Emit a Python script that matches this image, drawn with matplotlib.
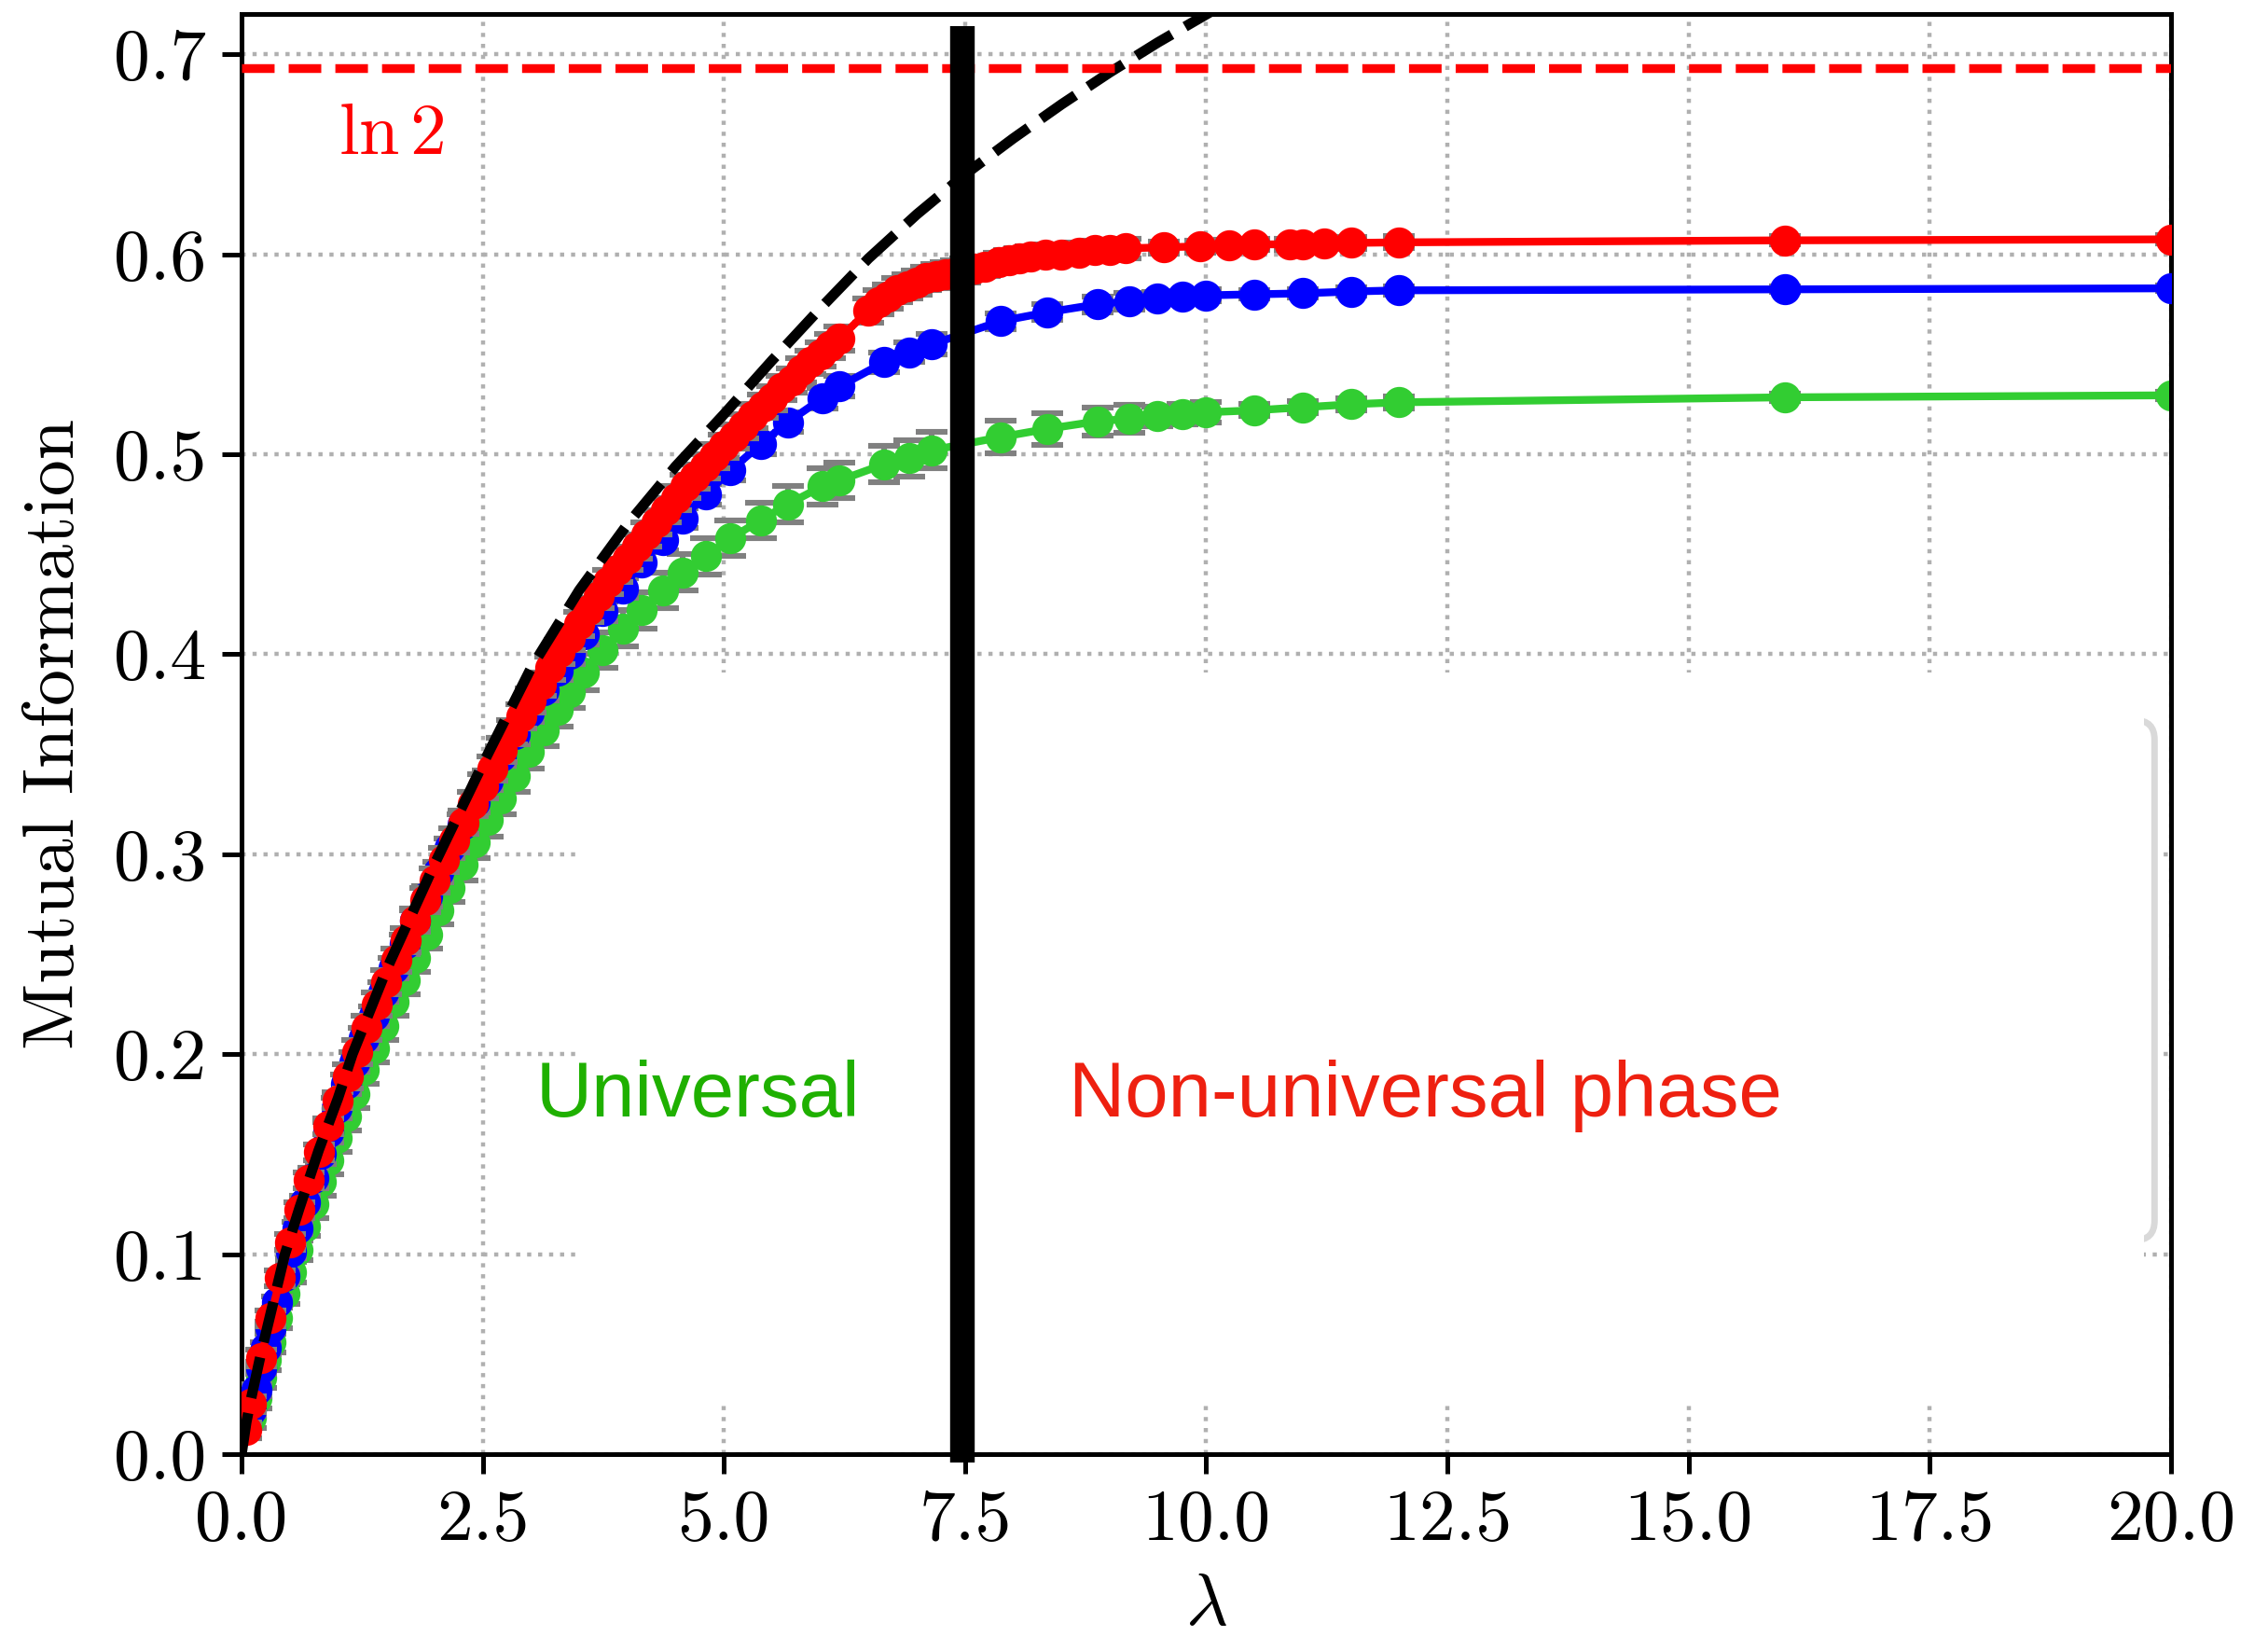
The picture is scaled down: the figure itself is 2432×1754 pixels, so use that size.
import numpy as np
import matplotlib
matplotlib.use('Agg')
import matplotlib.pyplot as plt
from matplotlib.patches import Rectangle, FancyBboxPatch

plt.rcParams['font.family'] = 'serif'
plt.rcParams['font.serif'] = ['cmr10']
plt.rcParams['mathtext.fontset'] = 'cm'
plt.rcParams['axes.unicode_minus'] = False

# red series (dense sampling)
x_red = [0.05, 0.1, 0.2, 0.3, 0.4, 0.5, 0.6, 0.7, 0.8, 0.9, 1.0, 1.1, 1.2, 1.3, 1.4,
         1.5, 1.6, 1.7, 1.8, 1.9, 2.0, 2.1, 2.2, 2.3, 2.4, 2.5, 2.6, 2.7, 2.8, 2.9,
         3.0, 3.1, 3.2, 3.3, 3.4, 3.5, 3.6, 3.7, 3.8, 3.9, 4.0, 4.1, 4.2, 4.3, 4.4,
         4.5, 4.6, 4.7, 4.8, 4.9, 5.0, 5.1, 5.2, 5.3, 5.4, 5.5, 5.6, 5.7, 5.8, 5.9,
         6.0, 6.1, 6.2, 6.5, 6.6, 6.7, 6.8, 6.9, 7.0, 7.1, 7.2, 7.3, 7.4, 7.5, 7.6,
         7.7, 7.85, 7.96, 8.06, 8.18, 8.33, 8.5, 8.68, 8.85, 9.0, 9.16, 9.56, 9.94,
         10.24, 10.5, 10.87, 11.0, 11.22, 11.5, 12.0, 16.0, 20.0]
y_red = [0.012, 0.025, 0.048, 0.068, 0.088, 0.106, 0.122, 0.137, 0.151, 0.164, 0.177,
         0.189, 0.201, 0.213, 0.225, 0.236, 0.247, 0.257, 0.267, 0.277, 0.287, 0.297,
         0.307, 0.316, 0.325, 0.334, 0.343, 0.352, 0.361, 0.369, 0.377, 0.385, 0.393,
         0.401, 0.408, 0.415, 0.422, 0.429, 0.436, 0.442, 0.448, 0.454, 0.460, 0.466,
         0.472, 0.478, 0.484, 0.489, 0.494, 0.499, 0.504, 0.509, 0.514, 0.519, 0.524,
         0.528, 0.533, 0.537, 0.542, 0.546, 0.550, 0.554, 0.558, 0.572, 0.576, 0.579,
         0.582, 0.584, 0.586, 0.588, 0.589, 0.590, 0.591, 0.592, 0.593, 0.594, 0.596,
         0.597, 0.598, 0.599, 0.600, 0.600, 0.601, 0.602, 0.602, 0.603, 0.6035, 0.604,
         0.6045, 0.605, 0.605, 0.6052, 0.6055, 0.6057, 0.606, 0.607, 0.6075]
e_red = [0.004, 0.004, 0.004, 0.004, 0.004, 0.004, 0.004, 0.004, 0.004, 0.004, 0.004,
         0.006, 0.006, 0.006, 0.006, 0.006, 0.006, 0.006, 0.006, 0.006, 0.006, 0.006,
         0.006, 0.006, 0.006, 0.006, 0.006, 0.006, 0.006, 0.006, 0.006, 0.006, 0.006,
         0.006, 0.006, 0.006, 0.006, 0.006, 0.006, 0.006, 0.006, 0.006, 0.006, 0.006,
         0.006, 0.006, 0.006, 0.006, 0.006, 0.006, 0.006, 0.006, 0.006, 0.006, 0.006,
         0.006, 0.006, 0.006, 0.006, 0.006, 0.006, 0.006, 0.006, 0.006, 0.006, 0.006,
         0.006, 0.006, 0.006, 0.006, 0.006, 0.006, 0.006, 0.006, 0.005, 0.005, 0.005,
         0.005, 0.005, 0.005, 0.005, 0.005, 0.005, 0.005, 0.005, 0.005, 0.003, 0.003,
         0.003, 0.003, 0.003, 0.003, 0.003, 0.003, 0.003, 0.002, 0.002]

# blue and green series share the same lambda grid
x_bg = [0.1, 0.15, 0.2, 0.25, 0.3, 0.37, 0.44, 0.51, 0.58, 0.66, 0.74, 0.82, 0.9, 0.99,
        1.08, 1.17, 1.27, 1.37, 1.47, 1.58, 1.69, 1.8, 1.92, 2.04, 2.16, 2.29, 2.42,
        2.55, 2.69, 2.83, 2.98, 3.13, 3.28, 3.4, 3.55, 3.74, 3.95, 4.15, 4.37, 4.575,
        4.81, 5.07, 5.38, 5.66, 6.02, 6.2, 6.66, 6.92, 7.155, 7.87, 8.35, 8.87, 9.2,
        9.49, 9.75, 10.0, 10.5, 11.0, 11.5, 12.0, 16.0, 20.0]
y_blue = [0.022, 0.032, 0.043, 0.053, 0.063, 0.076, 0.089, 0.101, 0.113, 0.126, 0.138,
          0.150, 0.161, 0.173, 0.185, 0.196, 0.208, 0.219, 0.231, 0.243, 0.255, 0.267,
          0.279, 0.291, 0.303, 0.315, 0.326, 0.337, 0.349, 0.360, 0.371, 0.382, 0.392,
          0.400, 0.410, 0.4215, 0.433, 0.446, 0.457, 0.468, 0.480, 0.492, 0.505, 0.516,
          0.528, 0.534, 0.546, 0.551, 0.555, 0.5666, 0.571, 0.575, 0.5765, 0.578,
          0.5787, 0.5795, 0.580, 0.5805, 0.5814, 0.582, 0.5825, 0.583]
e_blue = [0.003, 0.003, 0.003, 0.003, 0.003, 0.003, 0.003, 0.003, 0.003, 0.003, 0.005,
          0.005, 0.005, 0.005, 0.005, 0.005, 0.005, 0.005, 0.005, 0.005, 0.005, 0.005,
          0.005, 0.005, 0.005, 0.005, 0.005, 0.005, 0.005, 0.005, 0.005, 0.005, 0.005,
          0.005, 0.005, 0.005, 0.005, 0.005, 0.005, 0.005, 0.005, 0.005, 0.005, 0.005,
          0.005, 0.005, 0.005, 0.005, 0.005, 0.004, 0.004, 0.004, 0.004, 0.003, 0.003,
          0.003, 0.002, 0.002, 0.002, 0.002, 0.0015, 0.0015]
y_green = [0.018, 0.028, 0.038, 0.047, 0.056, 0.068, 0.080, 0.091, 0.102, 0.114, 0.125,
           0.136, 0.147, 0.158, 0.169, 0.180, 0.192, 0.203, 0.214, 0.226, 0.237, 0.248,
           0.260, 0.272, 0.283, 0.295, 0.306, 0.317, 0.328, 0.339, 0.351, 0.362, 0.372,
           0.381, 0.391, 0.402, 0.413, 0.422, 0.432, 0.441, 0.449, 0.458, 0.467, 0.475,
           0.484, 0.487, 0.495, 0.498, 0.502, 0.5086, 0.5127, 0.5165, 0.5178, 0.519,
           0.520, 0.521, 0.522, 0.5235, 0.525, 0.526, 0.5285, 0.5295]
e_green = [0.005, 0.005, 0.005, 0.005, 0.005, 0.005, 0.005, 0.005, 0.005, 0.005, 0.007,
           0.007, 0.007, 0.007, 0.007, 0.007, 0.007, 0.007, 0.007, 0.007, 0.007, 0.007,
           0.007, 0.007, 0.007, 0.008, 0.008, 0.008, 0.008, 0.008, 0.008, 0.008, 0.008,
           0.008, 0.009, 0.009, 0.009, 0.009, 0.009, 0.009, 0.009, 0.009, 0.009, 0.009,
           0.009, 0.009, 0.009, 0.009, 0.009, 0.008, 0.008, 0.007, 0.007, 0.005, 0.005,
           0.005, 0.003, 0.003, 0.003, 0.003, 0.002, 0.002]

# black dashed reference curve
x_ref = [0, 0.05, 0.1, 0.2, 0.3, 0.45, 0.6, 0.8, 1.0, 1.15, 1.5, 2.0, 2.5, 3.0, 3.5,
         4.0, 4.5, 5.0, 5.5, 6.0, 6.5, 7.0, 7.5, 8.0, 8.5, 9.0, 9.5, 10.0, 10.5]
y_ref = [0, 0.016, 0.028, 0.05, 0.07, 0.1, 0.123, 0.152, 0.178, 0.2, 0.242, 0.295,
         0.345, 0.393, 0.432, 0.465, 0.494, 0.52, 0.547, 0.573, 0.598, 0.62, 0.64,
         0.658, 0.675, 0.691, 0.706, 0.72, 0.734]

ln2 = np.log(2)
lam_c = 7.47

xticks = [0, 2.5, 5, 7.5, 10, 12.5, 15, 17.5, 20]
xticklabels = ['0.0', '2.5', '5.0', '7.5', '10.0', '12.5', '15.0', '17.5', '20.0']
yticks = [0, 0.1, 0.2, 0.3, 0.4, 0.5, 0.6, 0.7]
yticklabels = ['0.0', '0.1', '0.2', '0.3', '0.4', '0.5', '0.6', '0.7']

fig = plt.figure(figsize=(12.16, 8.77), dpi=200)
ax = fig.add_axes([0.1065, 0.1112, 0.8507, 0.880])

ax.grid(True, ls=':', color='#b0b0b0', lw=1.6)
ax.set_axisbelow(True)

# covered-up legend area
box = FancyBboxPatch((12, 0.107), 7.83, 0.26, boxstyle='round,pad=0,rounding_size=0.2',
                     mutation_aspect=0.0483, ec='#d9d9d9', fc='white', lw=2.5, zorder=1.1)
ax.add_patch(box)
ax.add_patch(Rectangle((3.47, 0.027), 19.72 - 3.47, 0.391 - 0.027, fc='white', ec='none', zorder=1.2))

kw = dict(fmt='o-', ecolor='gray', elinewidth=2.2, capsize=6, capthick=2.2, ms=11, lw=3)
ax.errorbar(x_bg, y_green, yerr=e_green, color='#32cd32', zorder=2, **kw)
ax.errorbar(x_bg, y_blue, yerr=e_blue, color='blue', zorder=3, **kw)
ax.errorbar(x_red, y_red, yerr=e_red, color='red', zorder=4, **kw)

ax.plot(x_ref, y_ref, color='black', lw=4, dashes=(4, 1.5), zorder=5)
ax.axhline(ln2, color='red', lw=3.4, ls='--', zorder=5)
ax.plot([lam_c, lam_c], [-0.004, 0.714], color='black', lw=9.5, solid_capstyle='butt',
        clip_on=False, zorder=6)

ax.text(1.01, 0.650, r'$\ln 2$', color='red', fontsize=28)
ax.text(3.05, 0.169, 'Universal', color='#1fb000', fontsize=30, family='Liberation Sans')
ax.text(8.57, 0.169, 'Non-universal phase', color='#ee2010', fontsize=30,
        family='Liberation Sans')

ax.set_xlim(0, 20)
ax.set_ylim(0, 0.72)
ax.set_xticks(xticks)
ax.set_xticklabels(xticklabels)
ax.set_yticks(yticks)
ax.set_yticklabels(yticklabels)
ax.tick_params(width=1.8, length=7.5, labelsize=28, pad=6)
for s in ax.spines.values():
    s.set_linewidth(1.8)

ax.set_xlabel(r'$\lambda$', fontsize=28, labelpad=8)
ax.set_ylabel('Mutual Information', fontsize=28, labelpad=10)

fig.savefig('out.png', dpi=200)
